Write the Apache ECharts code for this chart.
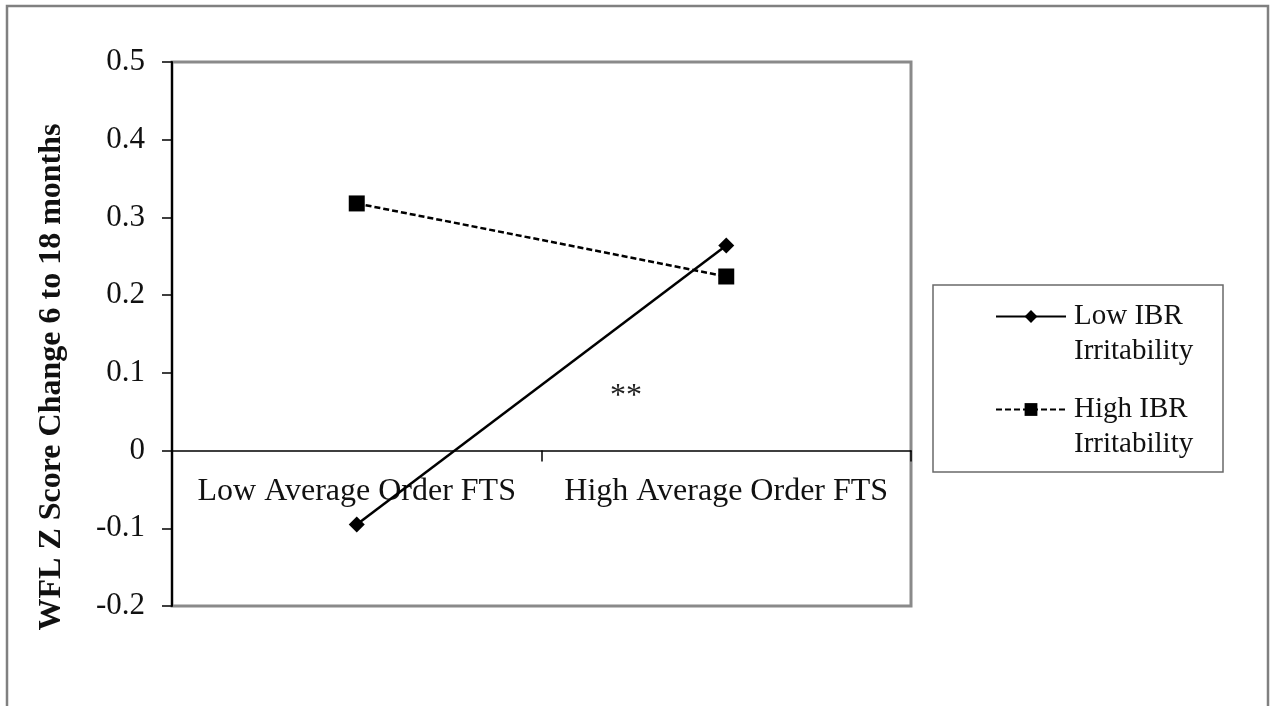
<!DOCTYPE html>
<html>
<head>
<meta charset="utf-8">
<script src="https://cdn.jsdelivr.net/npm/echarts@6/dist/echarts.min.js"></script>
<style>
  html, body { margin: 0; padding: 0; background: #ffffff; }
  #chart { width: 1273px; height: 706px; }
</style>
</head>
<body>
<div id="chart"></div>
<script>
// Categories along the x axis
const categories = ['Low Average Order FTS', 'High Average Order FTS'];
// WFL Z score change for each irritability group
const lowIBR = [-0.095, 0.264];
const highIBR = [0.318, 0.224];
// Series names shown in the legend
const seriesNames = ['Low IBR\nIrritability', 'High IBR\nIrritability'];
// Value axis range
const yMin = -0.2;
const yMax = 0.5;
const yStep = 0.1;

const serif = '"Liberation Serif", "Times New Roman", serif';

const chart = echarts.init(document.getElementById('chart'), null, { renderer: 'canvas' });

// Plot area geometry (pixels)
const gridTop = 62;
const gridBottom = 100;
const plotHeight = 706 - gridTop - gridBottom;
// Category axis sits on the zero line: shift it up from the bottom edge
const zeroOffset = -plotHeight * (0 - yMin) / (yMax - yMin);

chart.setOption({
  backgroundColor: '#ffffff',
  animation: false,
  textStyle: { fontFamily: serif, color: '#111' },
  grid: {
    left: 172, top: gridTop, right: 362, bottom: gridBottom,
    show: true,
    borderColor: '#8a8a8a',
    borderWidth: 3,
    containLabel: false
  },
  legend: {
    orient: 'vertical',
    left: 995,
    top: 264,
    padding: 0,
    itemGap: -12,
    itemWidth: 70,
    itemHeight: 16,
    data: seriesNames,
    // leading blank line keeps the first text line level with the symbol
    formatter: function (name) { return '\n' + name; },
    textStyle: {
      fontFamily: serif,
      fontSize: 29,
      color: '#111',
      lineHeight: 35,
      padding: [0, 0, 0, 3]
    }
  },
  xAxis: {
    type: 'category',
    data: categories,
    boundaryGap: true,
    offset: zeroOffset,
    axisLine: { onZero: false, lineStyle: { color: '#000', width: 1.5 } },
    axisTick: { show: true, length: 11, lineStyle: { color: '#000', width: 1.5 } },
    axisLabel: { fontFamily: serif, fontSize: 32, color: '#111', margin: 25, interval: 0 },
    splitLine: { show: false }
  },
  yAxis: {
    type: 'value',
    min: yMin,
    max: yMax,
    interval: yStep,
    axisLine: { show: true, onZero: false, lineStyle: { color: '#000', width: 2 } },
    axisTick: { show: true, length: 10, lineStyle: { color: '#000', width: 1.5 } },
    axisLabel: {
      fontFamily: serif, fontSize: 31, color: '#111', margin: 27,
      formatter: function (v) { return String(Math.round(v * 10) / 10); }
    },
    splitLine: { show: false }
  },
  graphic: [
    {
      type: 'rect',
      silent: true,
      shape: { x: 7, y: 6, width: 1261, height: 740 },
      style: { fill: null, stroke: '#808080', lineWidth: 2.5 }
    },
    {
      type: 'rect',
      silent: true,
      shape: { x: 933, y: 285, width: 290, height: 187 },
      style: { fill: null, stroke: '#6a6a6a', lineWidth: 1.5 }
    },
    {
      type: 'text',
      silent: true,
      x: 52, y: 377,
      rotation: Math.PI / 2,
      style: {
        text: 'WFL Z Score Change 6 to 18 months',
        font: 'bold 32px ' + serif,
        fill: '#111',
        align: 'center',
        verticalAlign: 'middle'
      }
    },
    {
      type: 'text',
      silent: true,
      x: 626, y: 397,
      style: {
        text: '**',
        font: '32px ' + serif,
        fill: '#222',
        align: 'center',
        verticalAlign: 'middle'
      }
    }
  ],
  series: [
    {
      name: seriesNames[0],
      type: 'line',
      data: lowIBR,
      symbol: 'diamond',
      symbolSize: 16,
      z: 5,
      lineStyle: { color: '#000', width: 2.5, type: 'solid' },
      itemStyle: { color: '#000' }
    },
    {
      name: seriesNames[1],
      type: 'line',
      data: highIBR,
      symbol: 'rect',
      symbolSize: 16,
      z: 5,
      lineStyle: { color: '#000', width: 2.5, type: [6, 3] },
      itemStyle: { color: '#000' }
    }
  ]
});
</script>
</body>
</html>
